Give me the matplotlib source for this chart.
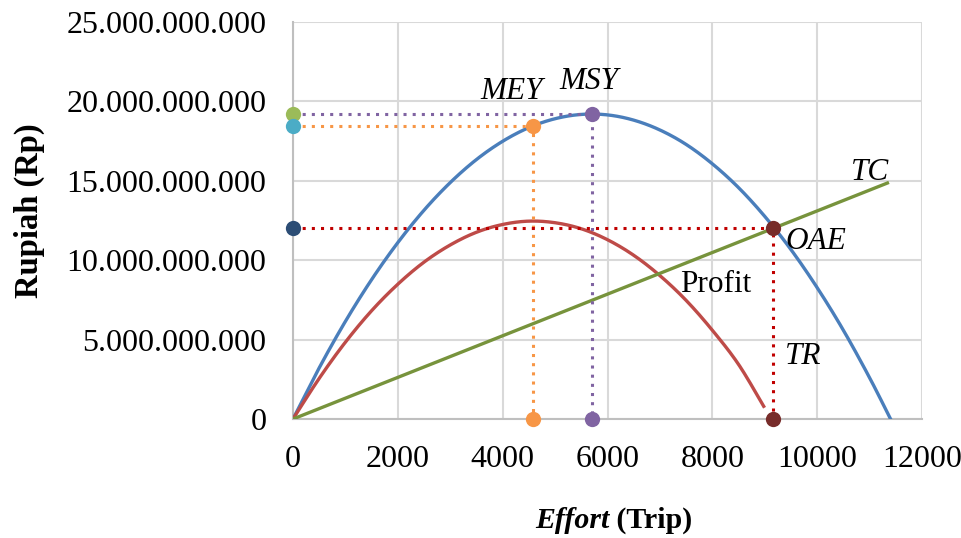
import matplotlib
matplotlib.use('Agg')
import matplotlib.pyplot as plt
import numpy as np

# Total revenue curve (TR) (billion Rp)
effort_tr = [0, 500, 1000, 1500, 2000, 2500, 3000, 3500, 4000, 4500, 5000, 5500,
             6000, 6500, 7000, 7500, 8000, 8500, 9000, 9500, 10000, 10500, 11000, 11400]
tr_values = [0.0, 3.22, 6.15, 8.78, 11.11, 13.15, 14.89, 16.34, 17.49, 18.35, 18.91, 19.18,
             19.15, 18.82, 18.20, 17.29, 16.07, 14.57, 12.76, 10.67, 8.27, 5.59, 2.60, 0.0]

# Profit curve
effort_profit = [0, 500, 1000, 1500, 2000, 2500, 3000, 3500, 4000, 4500, 5000, 5500,
                 6000, 6500, 7000, 7500, 8000, 8500, 8980]
profit_values = [0.0, 2.56, 4.84, 6.82, 8.49, 9.88, 10.96, 11.76, 12.25, 12.46, 12.36, 11.98,
                 11.29, 10.31, 9.03, 7.47, 5.59, 3.44, 0.8]

# Total cost line (TC)
effort_tc = [0, 11340]
tc_values = [0.0, 14.86]

# Reference points (effort, value in billion Rp)
mey_effort, mey_value = 4580, 18.45
msy_effort, msy_value = 5700, 19.2
oae_effort, oae_value = 9160, 12.0

B = 1e9


def smooth(xs, ys, n=24):
    # Catmull-Rom smoothing, like Excel's "smoothed line"
    p = np.column_stack([xs, ys]).astype(float)
    out = []
    for i in range(len(p) - 1):
        p0 = p[i - 1] if i > 0 else p[i]
        p1, p2 = p[i], p[i + 1]
        p3 = p[i + 2] if i + 2 < len(p) else p[i + 1]
        t = np.linspace(0, 1, n, endpoint=False)[:, None]
        seg = 0.5 * ((2 * p1) + (-p0 + p2) * t + (2 * p0 - 5 * p1 + 4 * p2 - p3) * t ** 2
                     + (-p0 + 3 * p1 - 3 * p2 + p3) * t ** 3)
        out.append(seg)
    out.append(p[-1:])
    out = np.vstack(out)
    return out[:, 0], out[:, 1]


plt.rcParams['font.family'] = ['Liberation Serif', 'DejaVu Serif']

fig = plt.figure(figsize=(9.62, 5.38), dpi=100)
ax = fig.add_axes([293 / 962, 1 - 419 / 538, (922 - 293) / 962, (419 - 22) / 538])

fs_tick = 23
fs_lab = 22.5
fs_title = 21.5
grid_col = '#D9D9D9'
lw = 2.4

# curves
x, y = smooth(effort_tr, tr_values)
ax.plot(x, y * B, color='#4A7EBB', lw=lw, zorder=3)
x, y = smooth(effort_profit, profit_values)
ax.plot(x, y * B, color='#BE4B48', lw=lw, zorder=3)
ax.plot(effort_tc, np.array(tc_values) * B, color='#77933C', lw=lw, zorder=3)

# dotted guide lines
dot = (0, (1, 2))
ax.plot([0, msy_effort, msy_effort], [msy_value * B, msy_value * B, 0],
        color='#8064A2', lw=2.2, linestyle=dot, zorder=4)
ax.plot([0, mey_effort, mey_effort], [mey_value * B, mey_value * B, 0],
        color='#F79646', lw=2.2, linestyle=dot, zorder=4)
ax.plot([0, oae_effort, oae_effort], [oae_value * B, oae_value * B, 0],
        color='#C00000', lw=2.2, linestyle=dot, zorder=4)

# markers
ms = 11
pts = [
    (0, msy_value, '#9BBB59'),
    (0, mey_value, '#4BACC6'),
    (0, oae_value, '#2C4D75'),
    (mey_effort, mey_value, '#F79646'),
    (msy_effort, msy_value, '#8064A2'),
    (oae_effort, oae_value, '#772C2A'),
    (mey_effort, 0, '#F79646'),
    (msy_effort, 0, '#8064A2'),
    (oae_effort, 0, '#772C2A'),
]
for px, py, c in pts:
    ax.plot(px, py * B, 'o', color=c, markersize=ms, markeredgewidth=0, zorder=6, clip_on=False)

# labels on chart
ax.text(4180, 20.6 * B, 'MEY', fontsize=fs_lab, style='italic', ha='center', va='center')
ax.text(5650, 21.25 * B, 'MSY', fontsize=fs_lab, style='italic', ha='center', va='center')
ax.text(11000, 15.55 * B, 'TC', fontsize=fs_lab, style='italic', ha='center', va='center')
ax.text(9390, 11.2 * B, 'OAE', fontsize=fs_lab, style='italic', ha='left', va='center')
ax.text(7385, 8.5 * B, 'Profit', fontsize=fs_lab, ha='left', va='center')
ax.text(9390, 3.95 * B, 'TR', fontsize=fs_lab, style='italic', ha='left', va='center')

# axes
ax.set_xlim(0, 12000)
ax.set_ylim(0, 25 * B)
ax.set_xticks(np.arange(0, 12001, 2000))
ax.set_yticks(np.arange(0, 25.1, 5) * B)
ax.set_yticklabels(['0', '5.000.000.000', '10.000.000.000', '15.000.000.000',
                    '20.000.000.000', '25.000.000.000'])
ax.tick_params(axis='both', length=0, labelsize=fs_tick)
ax.tick_params(axis='x', pad=19)
ax.tick_params(axis='y', pad=19)
ax.grid(True, color=grid_col, lw=1.5)
ax.set_axisbelow(True)
for s in ['top', 'right']:
    ax.spines[s].set_visible(False)
for s in ['left', 'bottom']:
    ax.spines[s].set_color('#BFBFBF')
    ax.spines[s].set_linewidth(1.5)

fig.text(29 / 962, 1 - 211 / 538, 'Rupiah (Rp)', rotation=90, fontsize=23.5,
         fontweight='bold', ha='center', va='center')
t1 = fig.text(0.5, 1 - 520 / 538, 'Effort', fontsize=fs_title, fontweight='bold',
              style='italic', ha='left', va='center')
fig.canvas.draw()
bb = t1.get_window_extent()
t2 = fig.text(0, 0, ' (Trip)', fontsize=fs_title, fontweight='bold', ha='left', va='center')
bb2 = t2.get_window_extent()
total = bb.width + bb2.width
x0 = 614 - total / 2
t1.set_x(x0 / 962)
t2.set_x((x0 + bb.width) / 962)
t2.set_y(1 - 520 / 538)

fig.savefig('out.png', dpi=100)
